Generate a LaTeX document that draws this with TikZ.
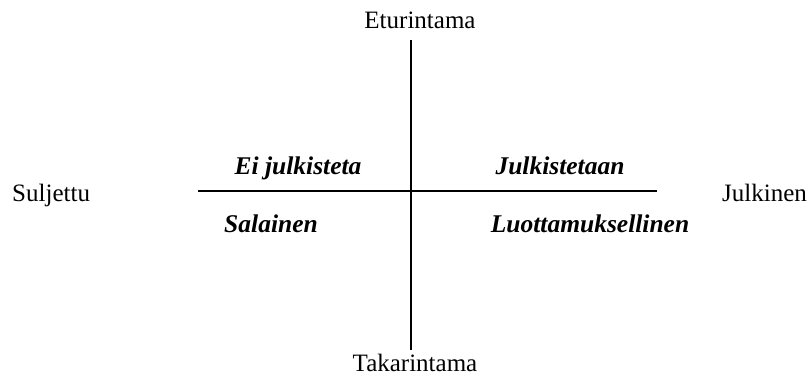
\documentclass[tikz,border=0pt]{standalone}
\usepackage{fontspec}
\setmainfont{Liberation Serif}
\begin{document}
\begin{tikzpicture}[x=1pt,y=-1pt,
  axis/.style={line width=1.8pt},
  lbl/.style={anchor=base,inner sep=0pt,font=\fontsize{25}{28}\selectfont},
  qlbl/.style={anchor=base,inner sep=0pt,font=\fontsize{25.5}{28}\selectfont\bfseries\itshape}]
\useasboundingbox (0,0) rectangle (812,376);
\coordinate (top) at (411,40);
\coordinate (bot) at (411,350);
\coordinate (left) at (198,191);
\coordinate (right) at (657,191);
\draw[axis] (top) -- (bot);
\draw[axis] (left) -- (right);
\node[lbl] (etu) at (420,28) {Eturintama};
\node[lbl] (taka) at (415,371) {Takarintama};
\node[lbl,anchor=base west] (sul) at (12,201) {Suljettu};
\node[lbl,anchor=base west] (jul) at (722,201) {Julkinen};
\node[qlbl] (ei) at (298,174) {Ei julkisteta};
\node[qlbl] (jt) at (560,174) {Julkistetaan};
\node[qlbl] (sal) at (271,232) {Salainen};
\node[qlbl] (luo) at (590,232) {Luottamuksellinen};
\end{tikzpicture}
\end{document}
